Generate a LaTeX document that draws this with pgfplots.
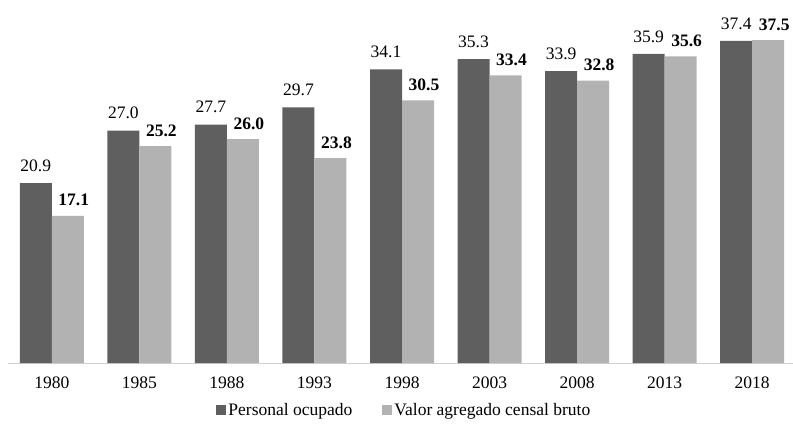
\documentclass[border=0pt]{standalone}
\usepackage{pgfplots}
\pgfplotsset{compat=1.18}
\usepackage{fontspec}
\setmainfont{Liberation Serif}
\definecolor{darkbar}{HTML}{5F5F5F}
\definecolor{lightbar}{HTML}{B2B2B2}
\definecolor{axisgray}{HTML}{D0D0D0}
\newcommand{\chartfont}{\rmfamily\fontsize{17.5}{21}\selectfont}
\begin{document}
\begin{tikzpicture}
\useasboundingbox (-8pt,-66pt) rectangle (785pt,363pt);
\begin{axis}[
    scale only axis,
    width=788pt, height=363pt,
    ybar=0pt, bar width=32pt,
    xmin=-0.5, xmax=8.5,
    ymin=0, ymax=42.16,
    axis x line*=bottom,
    axis y line=none,
    x axis line style={draw=axisgray, line width=1pt},
    xtick=data,
    xticklabels={1980,1985,1988,1993,1998,2003,2008,2013,2018},
    major tick length=0pt,
    xticklabel style={font=\chartfont, yshift=-10.5pt},
    nodes near coords,
    /pgf/number format/assume math mode=true,
    /pgf/number format/.cd, fixed, fixed zerofill, precision=1, /pgfplots/.cd,
    nodes near coords style={font=\chartfont, text=black, yshift=8pt},
    legend style={at={(0.503,-0.1)}, anchor=north, legend columns=2, draw=none,
        font=\chartfont,
        /tikz/every even column/.append style={column sep=28pt}},
    legend image code/.code={\fill[#1] (0pt,-5pt) rectangle (10pt,5pt);},
]
\addplot[fill=darkbar, draw=none] coordinates {
(0,20.9) (1,27.0) (2,27.7) (3,29.7) (4,34.1) (5,35.3) (6,33.9) (7,35.9) (8,37.4)};
\addplot[fill=lightbar, draw=none,
    every node near coord/.append style={font=\chartfont\bfseries, xshift=6pt, yshift=-2pt}] coordinates {
(0,17.1) (1,25.2) (2,26.0) (3,23.8) (4,30.5) (5,33.4) (6,32.8) (7,35.6) (8,37.5)};
\legend{Personal ocupado, Valor agregado censal bruto}
\end{axis}
\end{tikzpicture}
\end{document}
